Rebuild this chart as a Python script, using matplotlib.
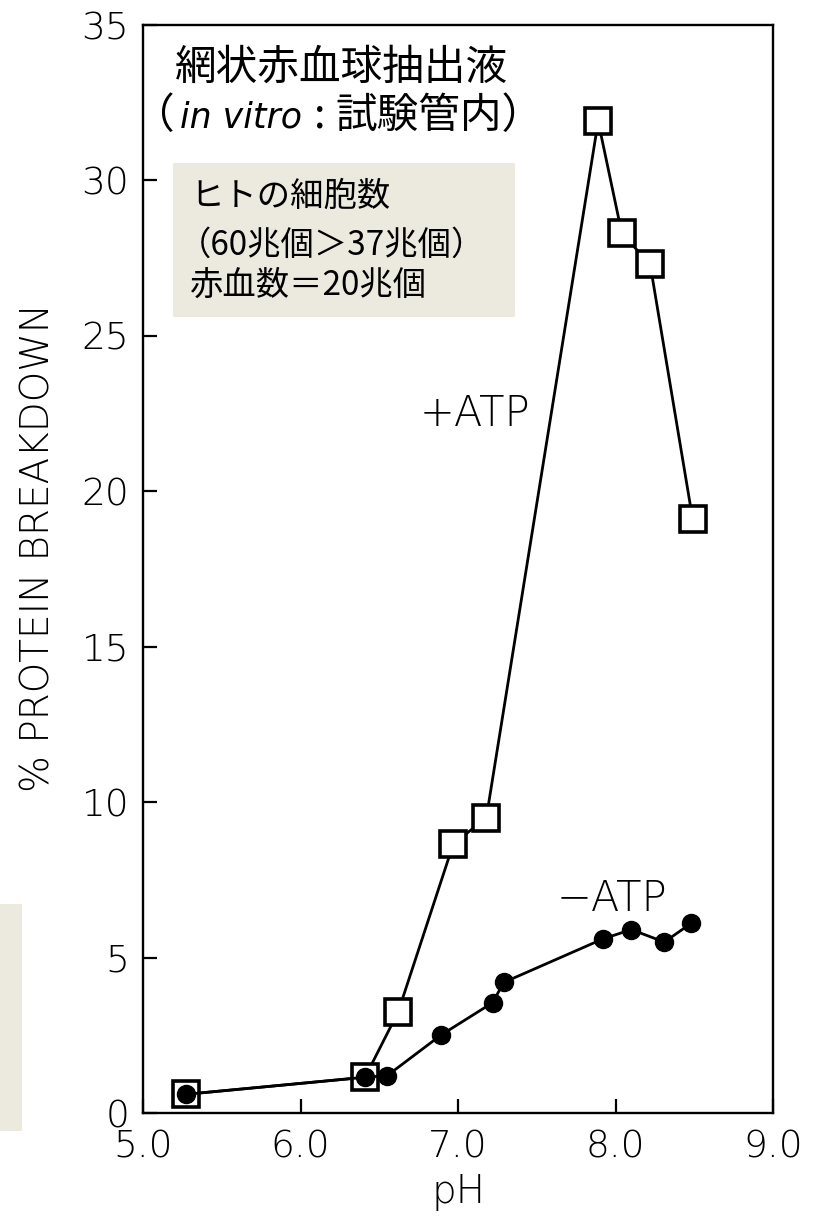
import matplotlib
matplotlib.use("Agg")
import matplotlib.pyplot as plt
from matplotlib.patches import Rectangle

# +ATP (open squares)
ph_plus = [5.27, 6.41, 6.62, 6.97, 7.18, 7.89, 8.04, 8.22, 8.49]
breakdown_plus = [0.6, 1.15, 3.25, 8.65, 9.5, 31.9, 28.3, 27.3, 19.1]

# -ATP (filled circles)
ph_minus = [5.27, 6.41, 6.55, 6.89, 7.22, 7.29, 7.92, 8.10, 8.31, 8.48]
breakdown_minus = [0.6, 1.15, 1.2, 2.5, 3.55, 4.2, 5.6, 5.9, 5.5, 6.1]

x_ticks = [5.0, 6.0, 7.0, 8.0, 9.0]
x_tick_labels = ["5.0", "6.0", "7.0", "8.0", "9.0"]
y_ticks = [0, 5, 10, 15, 20, 25, 30, 35]
y_tick_labels = ["0", "5", "10", "15", "20", "25", "30", "35"]

title_line1 = "網状赤血球抽出液"
box_lines = ["ヒトの細胞数", "（60兆個＞37兆個）", "赤血数＝20兆個"]

CJK = ["Noto Sans CJK JP", "DejaVu Sans"]
BEIGE = "#ECE9DF"

plt.rcParams["font.family"] = ["DejaVu Sans", "Noto Sans CJK JP"]
plt.rcParams["font.weight"] = "light"
plt.rcParams["axes.labelweight"] = "light"

W, H = 816, 1217
fig = plt.figure(figsize=(W / 100, H / 100), dpi=100)
ax = fig.add_axes([143 / W, 1 - 1113 / H, 630 / W, 1088 / H])

ax.plot(ph_plus, breakdown_plus, color="black", lw=2.0, marker="s", ms=19,
        mfc="white", mec="black", mew=2.6, zorder=3)
ax.plot(ph_minus, breakdown_minus, color="black", lw=2.0, marker="o", ms=13,
        mfc="black", mec="black", zorder=4)

ax.set_xlim(5.0, 9.0)
ax.set_ylim(0, 35)
ax.set_xticks(x_ticks)
ax.set_xticklabels(x_tick_labels)
ax.set_yticks(y_ticks)
ax.set_yticklabels(y_tick_labels)
ax.tick_params(direction="in", length=10, width=1.6, labelsize=27)
ax.tick_params(axis="x", pad=12)
ax.tick_params(axis="y", pad=10)
for sp in ax.spines.values():
    sp.set_linewidth(1.7)

ax.set_xlabel("pH", fontsize=28, labelpad=6)
ax.set_ylabel("% PROTEIN BREAKDOWN", fontsize=28)
ax.yaxis.set_label_coords((58 - 143) / 630, (1113 - 548) / 1088)

ax.text(7.11, 22.5, "+ATP", fontsize=30, ha="center", va="center")
ax.text(7.98, 6.9, "\u2212ATP", fontsize=30, ha="center", va="center")

# title block
fig.text(341 / W, 1 - 68 / H, title_line1, family=CJK, fontsize=30,
         weight="normal", ha="center", va="center")
fig.text(132 / W, 1 - 128 / H, "（", family=CJK, fontsize=30,
         weight="normal", va="baseline")
fig.text(180 / W, 1 - 128 / H, "in vitro", fontsize=25, style="italic",
         weight="normal", va="baseline")
fig.text(314 / W, 1 - 128 / H, ":", family=CJK, fontsize=30,
         weight="normal", va="baseline")
fig.text(335 / W, 1 - 128 / H, "試験管内）", family=CJK, fontsize=30,
         weight="normal", va="baseline")

# beige note box
fig.add_artist(Rectangle((173 / W, 1 - 317 / H), 342 / W, 154 / H,
                         transform=fig.transFigure, facecolor=BEIGE,
                         edgecolor="none", zorder=5))
for txt, xl, yc in zip(box_lines, [190, 178, 190], [196, 245, 285]):
    fig.text(xl / W, 1 - yc / H, txt, family=CJK, fontsize=24,
             weight="normal", ha="left", va="center", zorder=6)

fig.add_artist(Rectangle((0, 1 - 1131 / H), 22 / W, 227 / H,
                         transform=fig.transFigure, facecolor=BEIGE,
                         edgecolor="none"))

fig.savefig("out.png", dpi=100)
